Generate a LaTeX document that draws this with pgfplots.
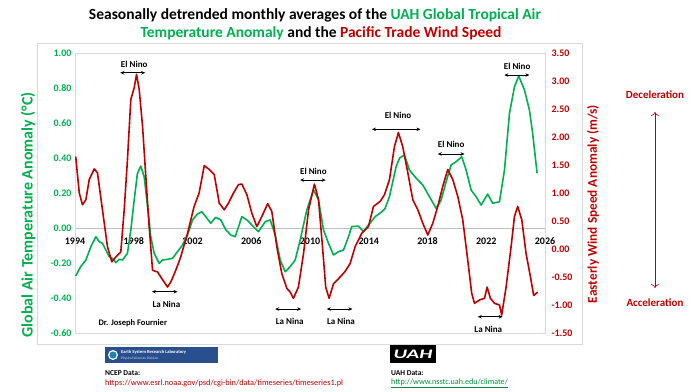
\documentclass[border=0pt]{standalone}
\usepackage{fontspec}
\setmainfont{Carlito}
\usepackage{pgfplots}
\pgfplotsset{compat=1.18}
\usetikzlibrary{arrows.meta}
\definecolor{tgreen}{HTML}{00B050}
\definecolor{wred}{HTML}{C00000}
\definecolor{framegray}{HTML}{D9D9D9}
\definecolor{zerogray}{HTML}{BFBFBF}
\definecolor{esrlblue}{HTML}{2A4F8F}
\begin{document}
\begin{tikzpicture}[x=1pt,y=1pt]
\path[use as bounding box] (0,0) rectangle (692,391);
% outer chart frame
\draw[framegray, line width=0.8pt] (37,348) rectangle (582,47);
% title
\node[font=\bfseries\fontsize{15.5}{18}\selectfont, anchor=base] at (315,371.5) {Seasonally detrended monthly averages of the \textcolor{tgreen}{UAH Global Tropical Air}};
\node[font=\bfseries\fontsize{15.5}{18}\selectfont, anchor=base] at (321,353.5) {\textcolor{tgreen}{Temperature Anomaly} and the \textcolor{wred}{Pacific Trade Wind Speed}};

\begin{axis}[
  at={(75pt,58pt)}, anchor=south west, scale only axis, width=470pt, height=280pt,
  xmin=1994, xmax=2026, ymin=-0.6, ymax=1.0,
  axis x line*=middle, axis y line*=left,
  axis line style={framegray, line width=0.8pt},
  x axis line style={zerogray},
  hide obscured x ticks=false, hide obscured y ticks=false,
  xtick={1994,1998,2002,2006,2010,2014,2018,2022,2026},
  ytick={-0.6,-0.4,-0.2,0,0.2,0.4,0.6,0.8,1.0},
  major tick length=0pt,
  /pgf/number format/assume math mode=true,
  xticklabel style={font=\bfseries\fontsize{10}{12}\selectfont, text=black, yshift=-6pt, /pgf/number format/1000 sep={}},
  yticklabel style={font=\bfseries\fontsize{10}{12}\selectfont, text=tgreen, /pgf/number format/.cd, fixed, fixed zerofill, precision=2},
  clip=false,
]
\draw[framegray, line width=0.8pt] (rel axis cs:0,0) rectangle (rel axis cs:1,1);
\addplot[tgreen, line width=1.6pt, line join=round] table {
1994.05 -0.274
1994.39 -0.221
1994.74 -0.183
1995.08 -0.107
1995.42 -0.050
1995.65 -0.078
1995.87 -0.088
1996.10 -0.126
1996.33 -0.164
1996.55 -0.173
1996.78 -0.198
1997.01 -0.179
1997.23 -0.183
1997.57 -0.145
1997.80 -0.011
1998.03 0.160
1998.25 0.312
1998.48 0.354
1998.71 0.293
1998.94 0.122
1999.16 -0.050
1999.39 -0.145
1999.73 -0.202
1999.96 -0.183
2000.30 -0.179
2000.64 -0.173
2000.98 -0.135
2001.32 -0.097
2001.66 -0.040
2002.00 0.046
2002.34 0.080
2002.63 0.093
2002.90 0.065
2003.24 0.027
2003.58 0.061
2003.93 0.046
2004.27 -0.011
2004.61 -0.040
2004.91 -0.050
2005.36 0.065
2005.70 0.046
2006.15 0.008
2006.49 -0.021
2006.95 0.036
2007.29 0.046
2007.63 -0.040
2007.97 -0.183
2008.31 -0.250
2008.65 -0.221
2008.99 -0.183
2009.33 -0.069
2009.78 0.103
2010.24 0.217
2010.58 0.160
2010.92 -0.011
2011.26 -0.088
2011.60 -0.154
2011.94 -0.135
2012.28 -0.126
2012.62 -0.050
2012.84 0.008
2013.30 0.011
2013.64 -0.021
2013.98 0.017
2014.44 0.065
2014.89 0.093
2015.10 0.110
2015.41 0.179
2015.86 0.350
2016.10 0.400
2016.43 0.417
2016.77 0.331
2017.23 0.284
2017.68 0.246
2018.13 0.179
2018.59 0.112
2018.93 0.160
2019.27 0.265
2019.61 0.360
2019.95 0.379
2020.33 0.407
2020.63 0.331
2020.97 0.217
2021.31 0.179
2021.65 0.131
2022.10 0.194
2022.44 0.141
2022.90 0.150
2023.24 0.331
2023.58 0.655
2023.92 0.807
2024.21 0.869
2024.60 0.789
2024.94 0.674
2025.16 0.541
2025.46 0.313
};
% annotations
\begin{scope}[font=\bfseries\fontsize{9}{11}\selectfont]
\draw[{Stealth[length=4pt,width=3.5pt]}-{Stealth[length=4pt,width=3.5pt]}, line width=0.8pt] (axis cs:1997.08,0.887) -- (axis cs:1998.78,0.887);
\node at (axis cs:1998.03,0.937) {El Nino};
\draw[{Stealth[length=4pt,width=3.5pt]}-{Stealth[length=4pt,width=3.5pt]}, line width=0.8pt] (axis cs:1999.23,-0.364) -- (axis cs:2000.98,-0.364);
\node at (axis cs:2000.22,-0.434) {La Nina};
\draw[{Stealth[length=4pt,width=3.5pt]}-{Stealth[length=4pt,width=3.5pt]}, line width=0.8pt] (axis cs:2009.33,0.274) -- (axis cs:2011.07,0.274);
\node at (axis cs:2010.23,0.326) {El Nino};
\draw[{Stealth[length=4pt,width=3.5pt]}-{Stealth[length=4pt,width=3.5pt]}, line width=0.8pt] (axis cs:2007.63,-0.463) -- (axis cs:2009.40,-0.463);
\node at (axis cs:2008.62,-0.531) {La Nina};
\draw[{Stealth[length=4pt,width=3.5pt]}-{Stealth[length=4pt,width=3.5pt]}, line width=0.8pt] (axis cs:2011.14,-0.463) -- (axis cs:2012.89,-0.463);
\node at (axis cs:2012.11,-0.531) {La Nina};
\draw[{Stealth[length=4pt,width=3.5pt]}-{Stealth[length=4pt,width=3.5pt]}, line width=0.8pt] (axis cs:2014.22,0.564) -- (axis cs:2017.52,0.564);
\node at (axis cs:2015.99,0.646) {El Nino};
\draw[{Stealth[length=4pt,width=3.5pt]}-{Stealth[length=4pt,width=3.5pt]}, line width=0.8pt] (axis cs:2018.70,0.423) -- (axis cs:2020.52,0.423);
\node at (axis cs:2019.61,0.48) {El Nino};
\draw[{Stealth[length=4pt,width=3.5pt]}-{Stealth[length=4pt,width=3.5pt]}, line width=0.8pt] (axis cs:2023.23,0.874) -- (axis cs:2024.94,0.874);
\node at (axis cs:2024.10,0.926) {El Nino};
\draw[{Stealth[length=4pt,width=3.5pt]}-{Stealth[length=4pt,width=3.5pt]}, line width=0.8pt] (axis cs:2021.42,-0.507) -- (axis cs:2023.12,-0.507);
\node at (axis cs:2022.14,-0.579) {La Nina};
\end{scope}
\end{axis}

\begin{axis}[
  at={(75pt,58pt)}, anchor=south west, scale only axis, width=470pt, height=280pt,
  xmin=1994, xmax=2026, ymin=-1.5, ymax=3.5,
  axis x line=none, axis y line*=right,
  axis line style={framegray, line width=0.8pt},
  hide obscured y ticks=false,
  ytick={-1.5,-1,-0.5,0,0.5,1,1.5,2,2.5,3,3.5},
  major tick length=0pt,
  /pgf/number format/assume math mode=true,
  yticklabel style={font=\bfseries\fontsize{10}{12}\selectfont, text=wred, xshift=3pt, /pgf/number format/.cd, fixed, fixed zerofill, precision=2},
]
\addplot[wred, line width=1.6pt, line join=round] table {
1994.05 1.65
1994.29 1.00
1994.51 0.79
1994.74 0.88
1994.97 1.24
1995.31 1.43
1995.53 1.36
1995.87 0.70
1996.21 0.04
1996.51 -0.23
1996.78 -0.14
1997.12 -0.05
1997.35 0.70
1997.57 1.59
1997.80 2.67
1998.03 2.88
1998.19 3.12
1998.37 2.85
1998.60 2.19
1998.82 1.30
1999.05 0.40
1999.28 -0.38
1999.62 -0.41
1999.84 -0.50
2000.07 -0.59
2000.30 -0.68
2000.52 -0.59
2000.86 -0.38
2001.20 -0.14
2001.66 0.28
2002.11 0.76
2002.45 1.00
2002.80 1.49
2003.14 1.42
2003.48 1.33
2003.82 0.82
2004.16 0.70
2004.45 0.82
2004.79 1.00
2005.13 1.15
2005.36 1.16
2005.70 0.97
2006.04 0.64
2006.38 0.40
2006.72 0.58
2007.12 0.81
2007.40 0.67
2007.74 0.04
2008.08 -0.44
2008.42 -0.70
2008.65 -0.77
2008.87 -0.88
2009.21 -0.68
2009.56 -0.08
2009.90 0.70
2010.30 1.16
2010.58 0.88
2010.85 0.04
2011.07 -0.68
2011.30 -0.88
2011.60 -0.62
2012.05 -0.50
2012.39 -0.40
2012.73 -0.26
2013.07 0.04
2013.52 0.28
2013.98 0.40
2014.32 0.76
2014.78 0.85
2015.07 0.97
2015.41 1.24
2015.75 1.83
2016.02 2.08
2016.31 1.83
2016.66 1.36
2017.00 0.88
2017.34 0.70
2017.68 0.46
2018.02 0.25
2018.36 0.46
2018.70 0.76
2019.04 1.12
2019.38 1.42
2019.72 1.24
2020.06 0.94
2020.40 0.52
2020.74 -0.20
2021.01 -0.79
2021.20 -0.97
2021.54 -0.91
2021.88 -0.88
2022.06 -0.68
2022.28 -0.88
2022.56 -0.97
2022.90 -1.00
2023.05 -1.18
2023.35 -0.68
2023.69 0.04
2023.92 0.58
2024.14 0.76
2024.42 0.52
2024.71 -0.08
2025.01 -0.50
2025.23 -0.83
2025.50 -0.77
};
\end{axis}

% axis titles
\node[rotate=90, font=\bfseries\fontsize{16}{18}\selectfont, text=tgreen] at (28,176) {Global Air Temperature Anomaly (°C)};
\node[rotate=90, font=\bfseries\fontsize{13.3}{15}\selectfont, text=wred] at (593,187) {Easterly Wind Speed Anomaly (m/s)};
% deceleration / acceleration
\node[font=\bfseries\fontsize{11}{13}\selectfont, text=wred] at (655,296.7) {Deceleration};
\node[font=\bfseries\fontsize{11}{13}\selectfont, text=wred] at (655,88.7) {Acceleration};
\draw[wred, line width=0.6pt, {To[length=4pt]}-{To[length=4pt]}] (655,279) -- (655,103);
% author
\node[font=\bfseries\fontsize{8.5}{10}\selectfont] at (132.8,68.3) {Dr. Joseph Fournier};
% ESRL logo
\fill[esrlblue] (105,44) rectangle (218,28);
\fill[white] (113,36) circle (5);
\fill[esrlblue!70!cyan] (113,36) circle (3.6);
\node[anchor=west, text=white, font=\bfseries\fontsize{4.6}{5}\selectfont, inner sep=0] at (121,39) {Earth System Research Laboratory};
\node[anchor=west, text=white!75!esrlblue, font=\fontsize{3.6}{4}\selectfont, inner sep=0] at (121,32.5) {Physical Sciences Division};
% UAH logo
\fill[black] (390,46) rectangle (436,28);
\node[text=white, font=\bfseries\itshape\fontsize{13}{14}\selectfont, inner sep=0] at (413,37) {\scalebox{1.6}[1]{UAH}};
% data sources
\node[anchor=west, inner sep=0, font=\bfseries\fontsize{7.5}{9}\selectfont] at (105,18.4) {NCEP Data:};
\node[anchor=west, inner sep=0, text=wred, font=\fontsize{8.3}{9}\selectfont] at (105,8) {https://www.esrl.noaa.gov/psd/cgi-bin/data/timeseries/timeseries1.pl};
\node[anchor=west, inner sep=0, font=\bfseries\fontsize{7.5}{9}\selectfont] at (391,18.4) {UAH Data:};
\node[anchor=west, inner sep=0, text=tgreen!80!black, font=\fontsize{8.1}{9}\selectfont] at (391,8) {\underline{http://www.nsstc.uah.edu/climate/}};
\end{tikzpicture}
\end{document}
